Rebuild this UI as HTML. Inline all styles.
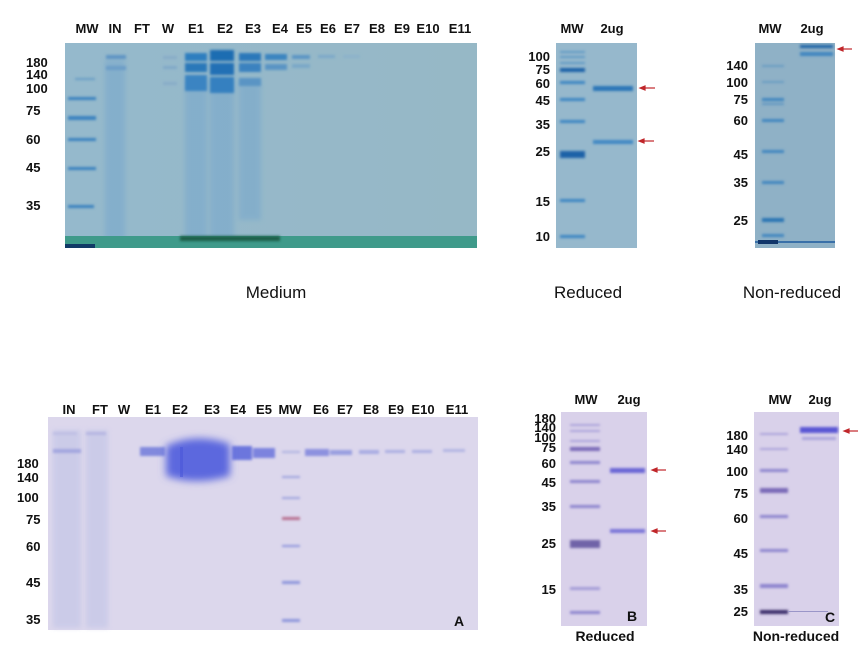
<!DOCTYPE html>
<html><head><meta charset="utf-8"><style>
html,body{margin:0;padding:0;background:#fff;width:868px;height:664px;overflow:hidden}
svg{display:block}
text{font-family:"Liberation Sans",Arial,sans-serif;font-weight:bold;fill:#111}
</style></head><body>
<svg width="868" height="664" viewBox="0 0 868 664" xmlns="http://www.w3.org/2000/svg">
<defs>
<filter id="b1" x="-20%" y="-100%" width="140%" height="300%"><feGaussianBlur stdDeviation="1.2"/></filter>
<filter id="b2" x="-20%" y="-50%" width="140%" height="200%"><feGaussianBlur stdDeviation="2.5"/></filter>
<filter id="b3" x="-30%" y="-30%" width="160%" height="160%"><feGaussianBlur stdDeviation="4"/></filter>
<linearGradient id="gtop" x1="0" x2="1" y1="0" y2="0"><stop offset="0" stop-color="#95b9cc"/><stop offset="1" stop-color="#96b8c6"/></linearGradient>
</defs>

<!-- ===== TOP LEFT GEL ===== -->
<rect x="65" y="43" width="412" height="205" fill="url(#gtop)"/>
<g filter="url(#b2)" fill="#7aa9cc" opacity="0.6">
<rect x="105" y="60" width="20" height="180"/><rect x="185" y="80" width="22" height="160"/>
<rect x="210" y="80" width="24" height="160"/><rect x="239" y="80" width="22" height="140"/>
</g>
<rect x="65" y="236" width="412" height="12" fill="#3f9a8a"/>
<rect x="180" y="236" width="100" height="5" fill="#1d5e48" filter="url(#b1)"/>
<rect x="65" y="244" width="30" height="4" fill="#113a66"/>
<g filter="url(#b1)" fill="#3b82bf">
<rect x="68" y="97" width="28" height="3"/><rect x="68" y="116" width="28" height="4"/>
<rect x="68" y="138" width="28" height="3"/><rect x="68" y="167" width="28" height="3"/>
<rect x="68" y="205" width="26" height="3"/><rect x="75" y="78" width="20" height="2" opacity=".5"/>
</g>
<g filter="url(#b1)">
<rect x="106" y="55" width="20" height="4" fill="#5f94c4"/><rect x="106" y="66" width="20" height="4" fill="#6c9dc7"/>
<rect x="163" y="56" width="14" height="3" fill="#88acc8"/><rect x="163" y="66" width="14" height="3" fill="#80a8c8"/><rect x="163" y="82" width="14" height="3" fill="#88acc8"/>
<rect x="185" y="53" width="22" height="8" fill="#2f7ebf"/><rect x="185" y="63" width="22" height="9" fill="#2b78b9"/><rect x="185" y="75" width="22" height="16" fill="#3b84c2"/>
<rect x="210" y="50" width="24" height="11" fill="#1f6db2"/><rect x="210" y="63" width="24" height="12" fill="#2170b5"/><rect x="210" y="77" width="24" height="16" fill="#3580c0"/>
<rect x="239" y="53" width="22" height="8" fill="#2a78ba"/><rect x="239" y="63" width="22" height="9" fill="#3a82bf"/><rect x="239" y="78" width="22" height="8" fill="#5a94c4"/>
<rect x="265" y="54" width="22" height="6" fill="#3b84c0"/><rect x="265" y="64" width="22" height="6" fill="#5a94c4"/>
<rect x="292" y="55" width="18" height="4" fill="#5c95c4"/><rect x="292" y="64" width="18" height="4" fill="#7aa8c8"/>
<rect x="318" y="55" width="17" height="3" fill="#7ba8c9"/><rect x="343" y="55" width="17" height="3" fill="#8cb2ca"/>
</g>
<g font-size="13" text-anchor="middle">
<text x="87" y="33">MW</text><text x="115" y="33">IN</text><text x="142" y="33">FT</text><text x="168" y="33">W</text>
<text x="196" y="33">E1</text><text x="225" y="33">E2</text><text x="253" y="33">E3</text><text x="280" y="33">E4</text>
<text x="304" y="33">E5</text><text x="328" y="33">E6</text><text x="352" y="33">E7</text><text x="377" y="33">E8</text>
<text x="402" y="33">E9</text><text x="428" y="33">E10</text><text x="460" y="33">E11</text>
</g>
<g font-size="13" text-anchor="start">
<text x="26" y="67">180</text><text x="26" y="79">140</text><text x="26" y="93">100</text>
<text x="26" y="115">75</text><text x="26" y="144">60</text><text x="26" y="172">45</text><text x="26" y="210">35</text>
</g>
<text x="276" y="298" font-size="17" text-anchor="middle" style="font-weight:normal" fill="#222">Medium</text>

<!-- ===== TOP REDUCED ===== -->
<rect x="556" y="43" width="81" height="205" fill="#96b8cc"/>
<g filter="url(#b1)" fill="#3d86c3">
<rect x="560" y="51" width="25" height="2" opacity=".6"/><rect x="560" y="56" width="25" height="2" opacity=".6"/><rect x="560" y="62" width="25" height="2" opacity=".6"/>
<rect x="560" y="68" width="25" height="4" fill="#1f62a8"/><rect x="560" y="81" width="25" height="3"/><rect x="560" y="98" width="25" height="3"/>
<rect x="560" y="120" width="25" height="3"/><rect x="560" y="151" width="25" height="7" fill="#1f62a8"/>
<rect x="560" y="199" width="25" height="3"/><rect x="560" y="235" width="25" height="3"/>
<rect x="593" y="86" width="40" height="5" fill="#2a76b8"/><rect x="593" y="140" width="40" height="4" fill="#3f88c4"/>
</g>
<g stroke="#c0262a" stroke-width="1.2" fill="#c0262a">
<line x1="644" y1="88" x2="655" y2="88"/><path d="M640 88 l5 -2 v4z"/>
<line x1="643" y1="141" x2="654" y2="141"/><path d="M639 141 l5 -2 v4z"/>
</g>
<g font-size="13" text-anchor="middle"><text x="572" y="33">MW</text><text x="612" y="33">2ug</text></g>
<g font-size="13" text-anchor="end">
<text x="550" y="61">100</text><text x="550" y="74">75</text><text x="550" y="88">60</text><text x="550" y="105">45</text>
<text x="550" y="129">35</text><text x="550" y="156">25</text><text x="550" y="206">15</text><text x="550" y="241">10</text>
</g>
<text x="588" y="298" font-size="17" text-anchor="middle" style="font-weight:normal" fill="#222">Reduced</text>

<!-- ===== TOP NON-REDUCED ===== -->
<rect x="755" y="43" width="80" height="205" fill="#8fb1c6"/>
<g filter="url(#b1)" fill="#3f86c0">
<rect x="762" y="65" width="22" height="2" opacity=".5"/><rect x="762" y="81" width="22" height="2" opacity=".5"/>
<rect x="762" y="98" width="22" height="3"/><rect x="762" y="103" width="22" height="2" opacity=".6"/>
<rect x="762" y="119" width="22" height="3"/><rect x="762" y="150" width="22" height="3"/><rect x="762" y="181" width="22" height="3"/>
<rect x="762" y="218" width="22" height="4" fill="#2b74b4"/><rect x="762" y="234" width="22" height="3"/>
<rect x="800" y="45" width="33" height="3" fill="#1e62a6"/><rect x="800" y="52" width="33" height="4" fill="#3f86c0"/>
</g>
<rect x="755" y="241" width="80" height="2" fill="#3a70a8"/><rect x="758" y="240" width="20" height="4" fill="#10356a"/>
<g stroke="#c0262a" stroke-width="1.2" fill="#c0262a"><line x1="842" y1="49" x2="852" y2="49"/><path d="M838 49 l5 -2 v4z"/></g>
<g font-size="13" text-anchor="middle"><text x="770" y="33">MW</text><text x="812" y="33">2ug</text></g>
<g font-size="13" text-anchor="end">
<text x="748" y="70">140</text><text x="748" y="87">100</text><text x="748" y="104">75</text><text x="748" y="125">60</text>
<text x="748" y="159">45</text><text x="748" y="187">35</text><text x="748" y="225">25</text>
</g>
<text x="792" y="298" font-size="17" text-anchor="middle" style="font-weight:normal" fill="#222">Non-reduced</text>

<!-- ===== BOTTOM LEFT GEL ===== -->
<rect x="48" y="417" width="430" height="213" fill="#dcd7ec"/>
<g filter="url(#b2)" fill="#c8c9e8" opacity=".8">
<rect x="53" y="430" width="28" height="198"/><rect x="86" y="430" width="22" height="198"/>
</g>
<g filter="url(#b1)">
<rect x="53" y="449" width="28" height="4" fill="#a3a6df"/><rect x="86" y="432" width="20" height="3" fill="#b6b6e2"/><rect x="53" y="432" width="24" height="3" fill="#bfbfe4"/>
<rect x="140" y="447" width="25" height="9" fill="#8189dd"/>
<rect x="232" y="446" width="20" height="14" fill="#6c76dd"/>
<rect x="253" y="448" width="22" height="10" fill="#7c83de"/>
<rect x="305" y="449" width="24" height="7" fill="#8c91df"/><rect x="330" y="450" width="22" height="5" fill="#9a9fe0"/>
<rect x="359" y="450" width="20" height="4" fill="#a8abe2"/><rect x="385" y="450" width="20" height="3" fill="#acafe2"/>
<rect x="412" y="450" width="20" height="3" fill="#acafe2"/><rect x="443" y="449" width="22" height="3" fill="#b3b5e3"/>
<rect x="282" y="476" width="18" height="2" fill="#9ea2de"/><rect x="282" y="497" width="18" height="2" fill="#9ea2de"/>
<rect x="282" y="517" width="18" height="3" fill="#b7708f"/><rect x="282" y="545" width="18" height="2" fill="#8e95dc"/>
<rect x="282" y="581" width="18" height="3" fill="#8e95dc"/><rect x="282" y="619" width="18" height="3" fill="#8e95dc"/>
<rect x="282" y="451" width="18" height="2" fill="#aeb1e0"/>
</g>
<path d="M166 446 Q196 432 230 444 L230 476 Q196 486 166 476 Z" fill="#5c68de" filter="url(#b3)"/>
<rect x="180" y="447" width="3" height="30" fill="#4a56d8" opacity=".6"/>
<g font-size="13" text-anchor="middle">
<text x="69" y="414">IN</text><text x="100" y="414">FT</text><text x="124" y="414">W</text><text x="153" y="414">E1</text>
<text x="180" y="414">E2</text><text x="212" y="414">E3</text><text x="238" y="414">E4</text><text x="264" y="414">E5</text>
<text x="290" y="414">MW</text><text x="321" y="414">E6</text><text x="345" y="414">E7</text><text x="371" y="414">E8</text>
<text x="396" y="414">E9</text><text x="423" y="414">E10</text><text x="457" y="414">E11</text>
</g>
<g font-size="13" text-anchor="start">
<text x="17" y="468">180</text><text x="17" y="482">140</text><text x="17" y="502">100</text>
<text x="26" y="524">75</text><text x="26" y="551">60</text><text x="26" y="587">45</text><text x="26" y="624">35</text>
</g>
<text x="459" y="626" font-size="14" text-anchor="middle">A</text>

<!-- ===== BOTTOM B ===== -->
<rect x="561" y="412" width="86" height="214" fill="#d9d1ea"/>
<g filter="url(#b1)" fill="#8d84cf">
<rect x="570" y="424" width="30" height="2" opacity=".6"/><rect x="570" y="430" width="30" height="2" opacity=".6"/>
<rect x="570" y="440" width="30" height="2" opacity=".6"/><rect x="570" y="447" width="30" height="4" fill="#7a6bb8"/>
<rect x="570" y="461" width="30" height="3"/><rect x="570" y="480" width="30" height="3"/><rect x="570" y="505" width="30" height="3"/>
<rect x="570" y="540" width="30" height="8" fill="#6f64a8"/><rect x="570" y="587" width="30" height="3" opacity=".7"/><rect x="570" y="611" width="30" height="3"/>
<rect x="610" y="468" width="35" height="5" fill="#6a66d6"/><rect x="610" y="529" width="35" height="4" fill="#7a74d8"/>
</g>
<g stroke="#c0262a" stroke-width="1.2" fill="#c0262a">
<line x1="656" y1="470" x2="666" y2="470"/><path d="M652 470 l5 -2 v4z"/>
<line x1="656" y1="531" x2="666" y2="531"/><path d="M652 531 l5 -2 v4z"/>
</g>
<g font-size="13" text-anchor="middle"><text x="586" y="404">MW</text><text x="629" y="404">2ug</text></g>
<g font-size="13" text-anchor="end">
<text x="556" y="423">180</text><text x="556" y="432">140</text><text x="556" y="442">100</text><text x="556" y="452">75</text>
<text x="556" y="468">60</text><text x="556" y="487">45</text><text x="556" y="511">35</text><text x="556" y="548">25</text><text x="556" y="594">15</text>
</g>
<text x="632" y="621" font-size="14" text-anchor="middle">B</text>
<text x="605" y="641" font-size="14" text-anchor="middle">Reduced</text>

<!-- ===== BOTTOM C ===== -->
<rect x="754" y="412" width="85" height="214" fill="#d9d1ea"/>
<g filter="url(#b1)" fill="#8d84cf">
<rect x="760" y="433" width="28" height="2" opacity=".6"/><rect x="760" y="448" width="28" height="2" opacity=".6"/>
<rect x="760" y="469" width="28" height="3"/><rect x="760" y="488" width="28" height="5" fill="#7a6bb8"/>
<rect x="760" y="515" width="28" height="3"/><rect x="760" y="549" width="28" height="3"/><rect x="760" y="584" width="28" height="4"/>
<rect x="760" y="610" width="28" height="4" fill="#3a2f6a"/>
<rect x="800" y="427" width="38" height="6" fill="#5a56d4"/><rect x="802" y="437" width="34" height="3" fill="#aba4dc"/>
</g>
<rect x="788" y="611" width="40" height="1" fill="#9a96c8"/>
<g stroke="#c0262a" stroke-width="1.2" fill="#c0262a"><line x1="848" y1="431" x2="858" y2="431"/><path d="M844 431 l5 -2 v4z"/></g>
<g font-size="13" text-anchor="middle"><text x="780" y="404">MW</text><text x="820" y="404">2ug</text></g>
<g font-size="13" text-anchor="end">
<text x="748" y="440">180</text><text x="748" y="454">140</text><text x="748" y="476">100</text><text x="748" y="498">75</text>
<text x="748" y="523">60</text><text x="748" y="558">45</text><text x="748" y="594">35</text><text x="748" y="616">25</text>
</g>
<text x="830" y="622" font-size="14" text-anchor="middle">C</text>
<text x="796" y="641" font-size="14" text-anchor="middle">Non-reduced</text>
</svg>
</body></html>
